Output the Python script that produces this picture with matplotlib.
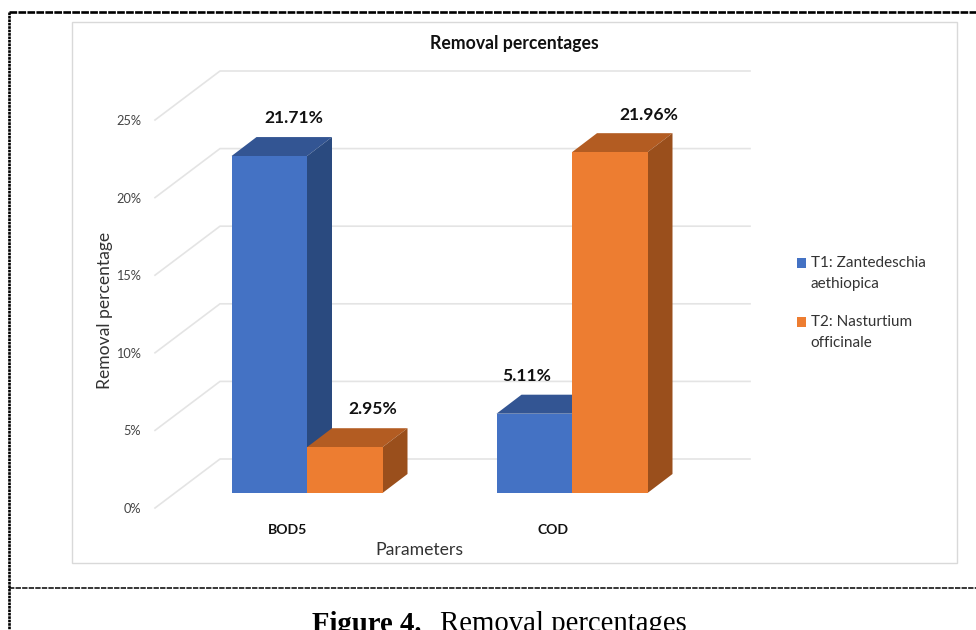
import matplotlib
matplotlib.use("Agg")
import matplotlib.pyplot as plt
from matplotlib.patches import Patch, Polygon, Rectangle
from matplotlib.transforms import Affine2D

plt.rcParams['font.family'] = ['Lato', 'DejaVu Sans']

categories = ["BOD5", "COD"]
series_names = ["T1: Zantedeschia\naethiopica", "T2: Nasturtium\nofficinale"]
t1_values = [21.71, 5.11]
t2_values = [2.95, 21.96]
y_ticks = [0, 5, 10, 15, 20, 25]

W, H = 976, 630
# colours: front, top, side
blue = ["#4472C4", "#335593", "#2A4A7F"]
orange = ["#ED7D31", "#B35C22", "#9A4F1C"]
grid_col = "#E4E4E4"

fig = plt.figure(figsize=(W / 100, H / 100), dpi=100, facecolor="white")

# page furniture in pixel coordinates
bg = fig.add_axes([0, 0, 1, 1], zorder=-1)
bg.set_xlim(0, W)
bg.set_ylim(H, 0)
bg.axis("off")
bg.plot([9, W], [12, 12], color="black", lw=1.9, dashes=(2.9, 0.5))
bg.plot([9, 9], [12, H], color="black", lw=1.9, dashes=(1.0, 0.3))
bg.plot([9, W], [588, 588], color="black", lw=1.1, dashes=(3.5, 0.8))
bg.add_patch(Rectangle((71.5, 21.5), 885, 541, fc="white", ec="#D9D9D9", lw=1))
bg.text(514, 44, "Removal percentages", ha="center", va="center", fontsize=12.7, fontweight="bold", color="#111111")
# the caption runs off the bottom of the picture, as in the original
bg.text(312, 624, "Figure 4.", ha="left", va="center", fontsize=20.7, fontweight="bold", family="Liberation Serif")
bg.text(440, 624, "Removal percentages", ha="left", va="center", fontsize=20.7, family="Liberation Serif")

# front plane of the 3D box: x -0.5..1.5 is 155..685 px, y 0..25 is 508..120 px
ax = fig.add_axes([155 / W, 1 - 508 / H, 530 / W, 388 / H])
ax.set_xlim(-0.5, 1.5)
ax.set_ylim(0, 25)
ax.patch.set_alpha(0)
for s in ax.spines.values():
    s.set_visible(False)

px_x = 2 / 530
px_y = 25 / 388

# walls
wall_dx = 65 * px_x
wall_dy = 49 * px_y
for v in y_ticks:
    ax.plot([-0.5, -0.5 + wall_dx, 1.5 + wall_dx], [v, v + wall_dy, v + wall_dy],
            color=grid_col, lw=1.2, clip_on=False, zorder=1)

ax.set_yticks(y_ticks)
ax.set_yticklabels([str(v) + "%" for v in y_ticks], fontsize=9.2, color="#444444")
ax.set_xticks(range(len(categories)))
ax.set_xticklabels(categories, fontsize=10.1, fontweight="bold", color="#111111")
ax.tick_params(axis="y", length=0, pad=10)
ax.tick_params(axis="x", length=0, pad=11.5)
ax.set_ylabel("Removal percentage", fontsize=12.6, color="#333333", labelpad=2.3, y=0.51)
ax.set_xlabel("Parameters", fontsize=12.7, color="#333333", labelpad=4.4, x=0.498)

# bars sit in the middle of the box depth
shift = ax.transData + Affine2D().translate(19.5, 15)
bar_w = 75.5 * px_x
depth_x = 25 * px_x
depth_y = 19 * px_y


def draw_bar(x, v, cols, z):
    x0, x1 = x - bar_w / 2, x + bar_w / 2
    ax.bar(x, v, width=bar_w, color=cols[0], transform=shift, zorder=z + 0.2, clip_on=False)
    ax.add_patch(Polygon([(x0, v), (x1, v), (x1 + depth_x, v + depth_y), (x0 + depth_x, v + depth_y)],
                         fc=cols[1], ec="none", transform=shift, zorder=z, clip_on=False))
    ax.add_patch(Polygon([(x1, 0), (x1 + depth_x, depth_y), (x1 + depth_x, v + depth_y), (x1, v)],
                         fc=cols[2], ec="none", transform=shift, zorder=z, clip_on=False))


label_shift = [[(25, 38), (28, 38)], [(-8, 38), (39, 37)]]
for i in range(len(categories)):
    draw_bar(i - bar_w / 2, t1_values[i], blue, 2 + i * 2)
    draw_bar(i + bar_w / 2, t2_values[i], orange, 3 + i * 2)
    for j, v in enumerate([t1_values[i], t2_values[i]]):
        xc = i + (j - 0.5) * bar_w
        sx, sy = label_shift[i][j]
        ax.annotate("%.2f%%" % v, (xc, v), xycoords=shift, xytext=(sx * 0.72, sy * 0.72),
                    textcoords="offset points", ha="center", va="center",
                    fontsize=12.6, fontweight="bold", color="#111111", zorder=10)

handles = [Patch(fc=blue[0]), Patch(fc=orange[0])]
leg = fig.legend(handles, series_names, loc="upper left", bbox_to_anchor=(797 / W, 1 - 256 / H),
                 frameon=False, fontsize=11, labelcolor="#333333", handlelength=0.6, handleheight=0.6,
                 handletextpad=0.3, labelspacing=1.6, borderpad=0, borderaxespad=0)
for t in leg.get_texts():
    t.set_linespacing(1.6)
# squares line up with the first line of each label
for h in leg.legend_handles:
    h.set_y(h.get_y() + 7.6)

fig.savefig("out.png", dpi=100)
